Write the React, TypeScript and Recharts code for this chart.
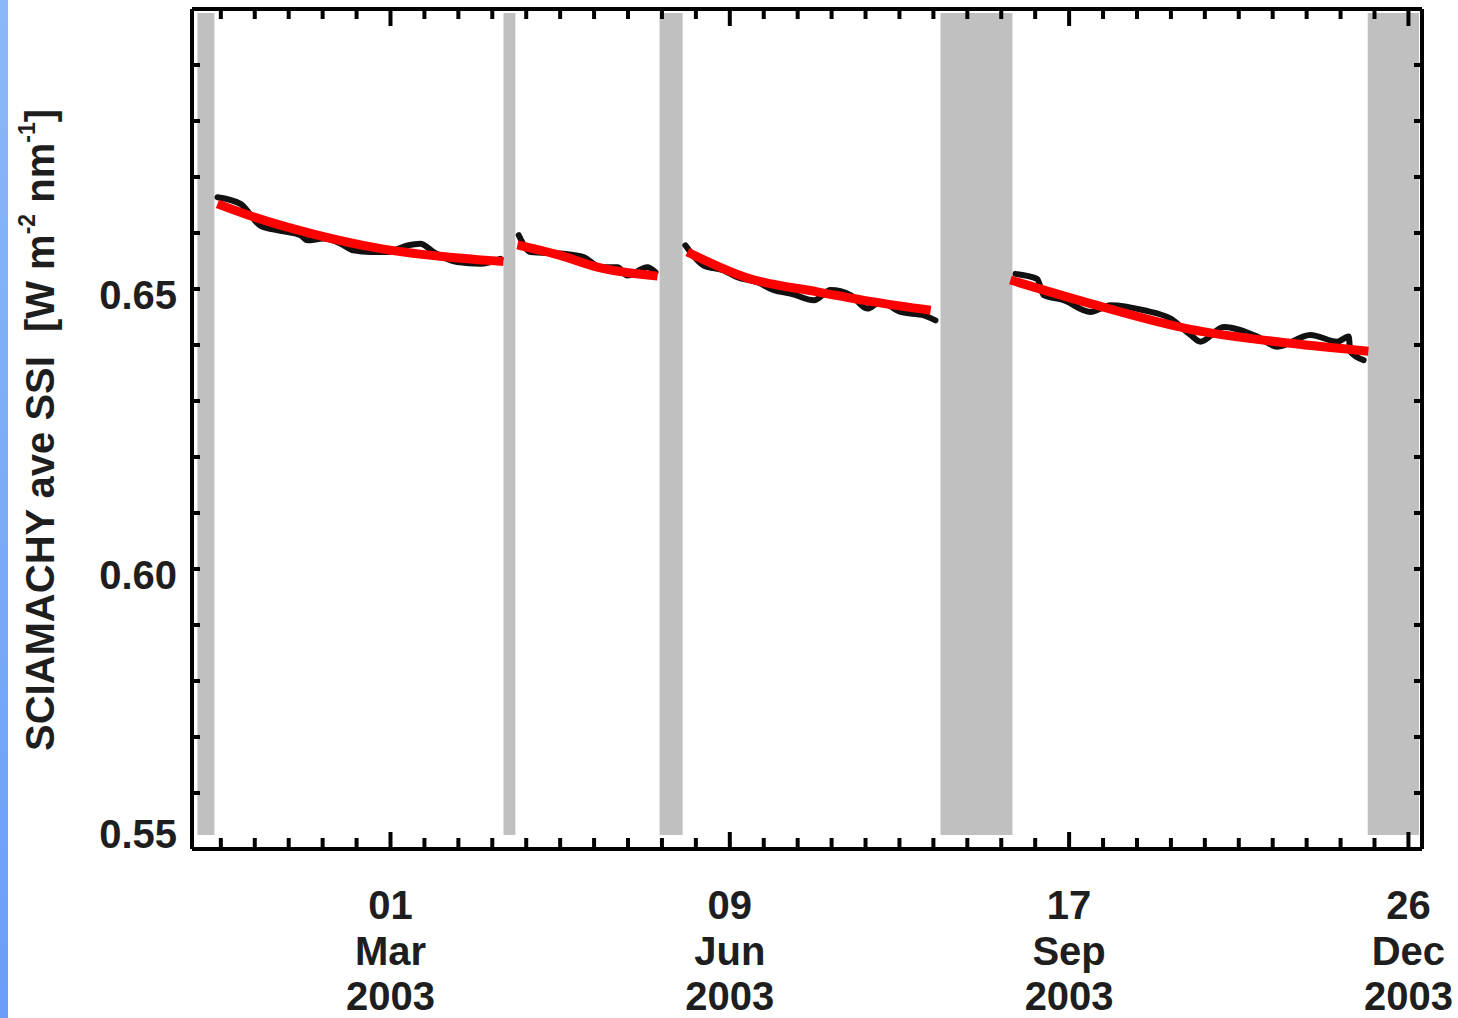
import React from "react";
import {
  ComposedChart,
  Line,
  XAxis,
  YAxis,
  ReferenceArea,
  Label,
} from "recharts";

// day of year 2003 -> SSI [W m^-2 nm^-1]
const OBS_1: [number, number][] = [
  [9.0, 0.6664], [15.8, 0.6652], [21.7, 0.6613], [27.6, 0.6604], [33.5, 0.6596],
  [35.5, 0.6587], [40.3, 0.659], [45.3, 0.6581], [49.1, 0.6569], [54.1, 0.6566],
  [59.1, 0.6566], [65.0, 0.6578], [68.8, 0.6581], [72.7, 0.6566], [79.7, 0.6548],
  [86.5, 0.6545], [92.4, 0.6554],
];
const OBS_2: [number, number][] = [
  [97.8, 0.6596], [101.3, 0.6566], [111.0, 0.6563], [116.9, 0.6557], [121.9, 0.6539],
  [126.9, 0.6539], [129.8, 0.6524], [135.7, 0.6539], [138.1, 0.653],
];
const OBS_3: [number, number][] = [
  [146.9, 0.6578], [152.3, 0.6542], [158.2, 0.6533], [162.2, 0.6521], [168.1, 0.6512],
  [173.0, 0.6498], [177.9, 0.6492], [184.8, 0.648], [189.7, 0.6498], [195.6, 0.6489],
  [200.5, 0.6465], [204.4, 0.6477], [210.3, 0.6459], [217.2, 0.6453], [220.6, 0.6444],
];
const OBS_4: [number, number][] = [
  [244.2, 0.6527], [250.6, 0.6518], [252.5, 0.6489], [258.4, 0.648], [266.3, 0.6459],
  [272.2, 0.6471], [282.0, 0.6462], [289.9, 0.6447], [295.8, 0.6418], [298.7, 0.6406],
  [305.6, 0.6432], [315.4, 0.6415], [321.3, 0.6397], [331.1, 0.6418], [339.0, 0.6406],
  [342.4, 0.6415], [342.9, 0.6388], [346.8, 0.6373],
];

const FIT_1: [number, number][] = [
  [9.0, 0.6652], [20.0, 0.6628], [37.3, 0.6598], [57.1, 0.6572], [76.8, 0.6557], [93.3, 0.6549],
];
const FIT_2: [number, number][] = [
  [97.4, 0.6579], [110.0, 0.656], [121.0, 0.6539], [138.7, 0.6523],
];
const FIT_3: [number, number][] = [
  [147.5, 0.6566], [165.0, 0.652], [185.8, 0.6495], [202.4, 0.6477], [219.2, 0.6462],
];
const FIT_4: [number, number][] = [
  [242.7, 0.6516], [266.3, 0.6474], [295.8, 0.6428], [325.3, 0.6403], [348.2, 0.6389],
];

// data gaps (grey bars), in day of year
const GAPS: [number, number][] = [
  [3.1, 8.1], [93.3, 96.8], [139.3, 146.1], [222.1, 243.3], [348.0, 363.1],
];

const X_TICKS = Array.from({ length: 36 }, (_, i) => (i + 1) * 10);
const LABEL_DAYS = [60, 160, 260, 360];
const LABEL_DAY = ["01", "09", "17", "26"];
const LABEL_MONTH = ["Mar", "Jun", "Sep", "Dec"];
const LABEL_YEAR = ["2003", "2003", "2003", "2003"];

const Y_TICKS = Array.from({ length: 16 }, (_, i) => (55 + i) / 100);
const Y_LABELS = [0.55, 0.6, 0.65];

const FONT = "'Liberation Sans', Arial, Helvetica, sans-serif";
const INK = "#1e1e1e";

const toRows = (pts: [number, number][]) => pts.map(([day, ssi]) => ({ day, ssi }));

function BottomTick(props: any) {
  const { x, y, payload } = props;
  const idx = LABEL_DAYS.indexOf(payload.value);
  const major = idx >= 0;
  return (
    <g>
      <line x1={x} x2={x} y1={y} y2={y - (major ? 17 : 11)} stroke="#000" strokeWidth={4} />
      {major && (
        <text textAnchor="middle" fontFamily={FONT} fontWeight="bold" fontSize={40} fill={INK}>
          <tspan x={x} y={y + 70}>{LABEL_DAY[idx]}</tspan>
          <tspan x={x} y={y + 116}>{LABEL_MONTH[idx]}</tspan>
          <tspan x={x} y={y + 161}>{LABEL_YEAR[idx]}</tspan>
        </text>
      )}
    </g>
  );
}

function TopTick(props: any) {
  const { x, y, payload } = props;
  const major = LABEL_DAYS.includes(payload.value);
  return <line x1={x} x2={x} y1={y} y2={y + (major ? 17 : 10)} stroke="#000" strokeWidth={4} />;
}

function LeftTick(props: any) {
  const { x, y, payload } = props;
  const v = Math.round(payload.value * 100) / 100;
  const labelled = Y_LABELS.includes(v);
  return (
    <g>
      <line x1={x} x2={x + 8} y1={y} y2={y} stroke="#000" strokeWidth={4} />
      {labelled && (
        <text
          x={x - 15}
          y={v === 0.55 ? y - 1 : y + 20}
          textAnchor="end"
          fontFamily={FONT}
          fontWeight="bold"
          fontSize={40}
          fill={INK}
        >
          {v.toFixed(2)}
        </text>
      )}
    </g>
  );
}

function RightTick(props: any) {
  const { x, y } = props;
  return <line x1={x} x2={x - 8} y1={y} y2={y} stroke="#000" strokeWidth={4} />;
}

function YTitle() {
  const cx = 54;
  const cy = 430;
  return (
    <text
      x={cx}
      y={cy}
      transform={`rotate(-90, ${cx}, ${cy})`}
      textAnchor="middle"
      fontFamily={FONT}
      fontWeight="bold"
      fontSize={40}
      fill={INK}
    >
      <tspan>SCIAMACHY ave SSI</tspan>
      <tspan dx={24}>[W m</tspan>
      <tspan fontSize={23} dy={-19}>-2</tspan>
      <tspan dy={19}> nm</tspan>
      <tspan fontSize={23} dy={-19}>-1</tspan>
      <tspan dy={19}>]</tspan>
    </text>
  );
}

export default function App() {
  const axisLine = { stroke: "#000", strokeWidth: 4 };
  return (
    <div style={{ position: "absolute", left: 0, top: 0, width: 1458, height: 1018, background: "#fff" }}>
      <div
        style={{
          position: "absolute",
          left: 0,
          top: 0,
          width: 8,
          height: 1018,
          background: "linear-gradient(#8cb8f6, #6c9ef8)",
        }}
      />
      <ComposedChart width={1458} height={1018} margin={{ top: 8, right: 35, bottom: 0, left: 0 }}>
        <XAxis
          dataKey="day"
          type="number"
          domain={[1.5, 364]}
          ticks={X_TICKS}
          interval={0}
          allowDataOverflow
          height={169}
          tickSize={0}
          tickMargin={0}
          tickLine={false}
          axisLine={axisLine}
          tick={<BottomTick />}
        />
        <XAxis
          xAxisId="top"
          orientation="top"
          dataKey="day"
          type="number"
          domain={[1.5, 364]}
          ticks={X_TICKS}
          interval={0}
          allowDataOverflow
          height={1}
          tickSize={0}
          tickMargin={0}
          tickLine={false}
          axisLine={axisLine}
          tick={<TopTick />}
        />
        <YAxis
          type="number"
          domain={[0.55, 0.7]}
          ticks={Y_TICKS}
          interval={0}
          allowDataOverflow
          width={192}
          tickSize={0}
          tickMargin={0}
          tickLine={false}
          axisLine={axisLine}
          tick={<LeftTick />}
        >
          <Label content={<YTitle />} />
        </YAxis>
        <YAxis
          yAxisId="right"
          orientation="right"
          type="number"
          domain={[0.55, 0.7]}
          ticks={Y_TICKS}
          interval={0}
          allowDataOverflow
          width={1}
          tickSize={0}
          tickMargin={0}
          tickLine={false}
          axisLine={axisLine}
          tick={<RightTick />}
        />

        {GAPS.map(([a, b]) => (
          <ReferenceArea key={a} x1={a} x2={b} y1={0.5525} y2={0.6993} fill="#c0c0c0" fillOpacity={1} stroke="none" />
        ))}

        {[OBS_1, OBS_2, OBS_3, OBS_4].map((seg, i) => (
          <Line
            key={`obs${i}`}
            data={toRows(seg)}
            dataKey="ssi"
            type="monotone"
            stroke="#111"
            strokeWidth={6}
            strokeLinejoin="round"
            strokeLinecap="round"
            dot={false}
            isAnimationActive={false}
          />
        ))}
        {[FIT_1, FIT_2, FIT_3, FIT_4].map((seg, i) => (
          <Line
            key={`fit${i}`}
            data={toRows(seg)}
            dataKey="ssi"
            type="monotone"
            stroke="#ff0000"
            strokeWidth={9}
            dot={false}
            isAnimationActive={false}
          />
        ))}
      </ComposedChart>
    </div>
  );
}
